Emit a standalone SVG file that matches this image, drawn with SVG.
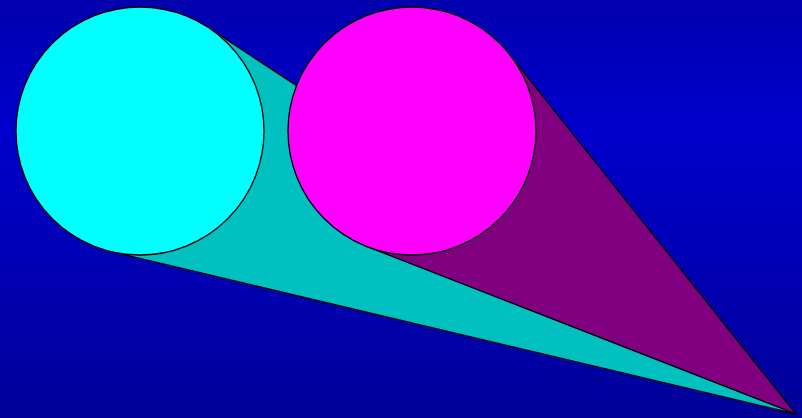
<svg xmlns="http://www.w3.org/2000/svg" width="802" height="418" viewBox="0 0 802 418">
  <defs>
    <linearGradient id="bg" x1="0" y1="0" x2="0" y2="1">
      <stop offset="0" stop-color="#0000AE"/>
      <stop offset="0.31" stop-color="#0000CC"/>
      <stop offset="1" stop-color="#000098"/>
    </linearGradient>
  </defs>
  <style>
    .edge { stroke: #000000; stroke-width: 1.3; stroke-linejoin: round; }
  </style>
  <rect x="0" y="0" width="802" height="418" fill="url(#bg)"/>
  <g id="cyan-cone">
    <polygon class="edge" points="796,414 111.6,251.7 207.9,27.3" fill="#00C0C0"/>
    <circle class="edge" cx="140" cy="131" r="124" fill="#00FFFF"/>
  </g>
  <g id="magenta-cone">
    <polygon class="edge" points="796,414 367.2,246.6 508.7,53.4" fill="#800080"/>
    <circle class="edge" cx="412" cy="131" r="124" fill="#FF00FF"/>
  </g>
</svg>
